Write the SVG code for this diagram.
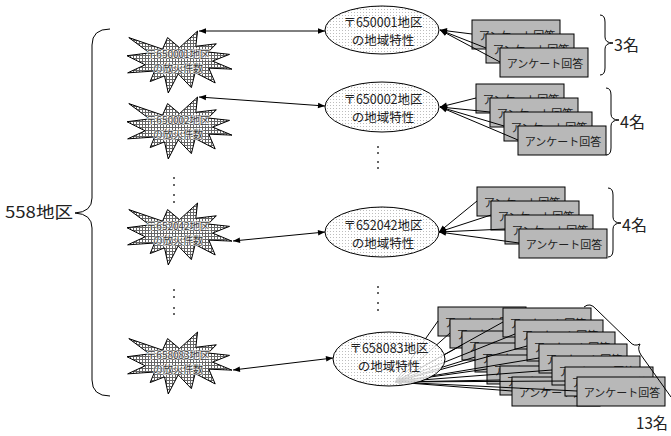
<svg xmlns="http://www.w3.org/2000/svg" xmlns:xlink="http://www.w3.org/1999/xlink" width="671" height="436" viewBox="0 0 671 436">
<style>
text{font-family:"Noto Sans CJK JP","Liberation Sans",sans-serif;dominant-baseline:central}
.et{font-size:12.5px;text-anchor:middle;fill:#222}
.ct{font-size:11px;text-anchor:middle;fill:#222}
.st{font-size:10px;text-anchor:middle;fill:#3a3a3a;stroke:#fff;stroke-width:1.6;stroke-opacity:0.75;paint-order:stroke;stroke-linejoin:round}
.lb{font-size:16px;fill:#222}
.card{fill:#b8b8b8;stroke:#000;stroke-width:1}
.ell{fill:url(#pe);stroke:#000;stroke-width:1}
.star{fill:url(#ps);stroke:#000;stroke-width:1}
.ln{stroke:#000;stroke-width:1;fill:none}
.arr{stroke:#000;stroke-width:1;fill:none;marker-start:url(#ah);marker-end:url(#ah)}
.one{stroke:#000;stroke-width:1;fill:none;marker-end:url(#ah)}
.br{stroke:#000;stroke-width:1;fill:none}
.dot{fill:#333}
</style>
<defs>
<marker id="ah" viewBox="0 0 10 10" refX="10" refY="5" markerWidth="8" markerHeight="7" markerUnits="userSpaceOnUse" orient="auto-start-reverse"><path d="M0,1 L10,5 L0,9 Z" fill="#000"/></marker>
<pattern id="pe" width="3" height="3" patternUnits="userSpaceOnUse"><rect width="3" height="3" fill="#fff" fill-opacity="0.82"/><rect width="1" height="1" fill="#bdbdbd"/></pattern>
<pattern id="ps" width="3" height="3" patternUnits="userSpaceOnUse"><rect width="3" height="3" fill="#666"/><rect x="1" y="1" width="2" height="2" fill="#fff"/></pattern>
<path id="star" class="star" d="M52.5,16.65 L70.59,0 68.81,15.28 89.35,12.79 81.19,21 102.55,23.36 85.59,30.07 105,38.15 81.85,37.15 88.2,51.94 68.15,41.5 64.39,56.65 51.2,42.87 41.25,62 37.5,44.86 23.15,50.57 27.55,40 0.66,41.87 18.09,33.8 0,24.73 22.49,21.86 1.8,6.59 35.54,18.14 40.6,6.59 Z"/>
<g id="cardT"><rect class="card" width="88" height="29"/><text class="ct" x="45" y="15">アンケート回答</text></g>
</defs>

<g id="cards1">
<use href="#cardT" x="472" y="20"/>
<use href="#cardT" x="486" y="34"/>
<use href="#cardT" x="500" y="48"/>
</g>
<g id="cards2">
<use href="#cardT" x="476" y="84"/>
<use href="#cardT" x="490" y="98"/>
<use href="#cardT" x="504" y="112"/>
<use href="#cardT" x="518" y="126"/>
</g>
<g id="cards3">
<use href="#cardT" x="477" y="187"/>
<use href="#cardT" x="491" y="201"/>
<use href="#cardT" x="505" y="215"/>
<use href="#cardT" x="519" y="229"/>
</g>
<g id="cards4">
<use href="#cardT" x="438" y="307"/>
<use href="#cardT" x="450" y="319"/>
<use href="#cardT" x="462" y="331"/>
<use href="#cardT" x="475" y="343"/>
<use href="#cardT" x="487" y="355"/>
<use href="#cardT" x="500" y="366"/>
<use href="#cardT" x="512" y="377"/>
<use href="#cardT" x="503" y="308"/>
<use href="#cardT" x="515" y="320"/>
<use href="#cardT" x="527" y="332"/>
<use href="#cardT" x="539" y="344"/>
<use href="#cardT" x="552" y="356"/>
<use href="#cardT" x="565" y="367"/>
<use href="#cardT" x="577" y="377"/>
</g>

<g id="connectors">
<line class="arr" x1="199" y1="31" x2="325" y2="31"/>
<line class="arr" x1="199" y1="97" x2="325" y2="106"/>
<line class="arr" x1="233" y1="241" x2="325" y2="232"/>
<line class="arr" x1="233" y1="370" x2="333" y2="358"/>
<line class="one" x1="472" y1="34" x2="440" y2="30"/>
<line class="one" x1="486" y1="48" x2="440" y2="30"/>
<line class="one" x1="500" y1="62" x2="440" y2="30"/>
<line class="one" x1="476" y1="98" x2="440" y2="107"/>
<line class="one" x1="490" y1="112" x2="440" y2="107"/>
<line class="one" x1="504" y1="126" x2="440" y2="107"/>
<line class="one" x1="518" y1="140" x2="440" y2="107"/>
<line class="one" x1="477" y1="201" x2="439" y2="232"/>
<line class="one" x1="491" y1="215" x2="439" y2="232"/>
<line class="one" x1="505" y1="229" x2="439" y2="232"/>
<line class="one" x1="519" y1="243" x2="439" y2="232"/>
<g>
<line class="ln" x1="438" y1="321" x2="395" y2="382"/>
<line class="ln" x1="450" y1="333" x2="395" y2="382"/>
<line class="ln" x1="462" y1="345" x2="395" y2="382"/>
<line class="ln" x1="475" y1="357" x2="395" y2="382"/>
<line class="ln" x1="487" y1="369" x2="395" y2="382"/>
<line class="ln" x1="500" y1="380" x2="395" y2="382"/>
<line class="ln" x1="512" y1="391" x2="395" y2="382"/>
<line class="ln" x1="503" y1="322" x2="395" y2="382"/>
<line class="ln" x1="515" y1="334" x2="395" y2="382"/>
<line class="ln" x1="527" y1="346" x2="395" y2="382"/>
<line class="ln" x1="539" y1="358" x2="395" y2="382"/>
<line class="ln" x1="552" y1="370" x2="395" y2="382"/>
<line class="ln" x1="565" y1="381" x2="395" y2="382"/>
<line class="one" x1="577" y1="391" x2="395" y2="382"/>
</g>
</g>

<g id="e1"><ellipse class="ell" cx="382" cy="30" rx="57" ry="24"/><text class="et" x="383" y="21.5">〒650001地区</text><text class="et" x="383" y="39.5">の地域特性</text></g>
<g id="e2"><ellipse class="ell" cx="382" cy="107" rx="57" ry="25"/><text class="et" x="383" y="98">〒650002地区</text><text class="et" x="383" y="116">の地域特性</text></g>
<g id="e3"><ellipse class="ell" cx="382" cy="232" rx="57" ry="25"/><text class="et" x="383" y="224">〒652042地区</text><text class="et" x="383" y="242">の地域特性</text></g>
<g id="e4"><ellipse class="ell" cx="389" cy="359" rx="56" ry="27"/><text class="et" x="389" y="347">〒658083地区</text><text class="et" x="389" y="365">の地域特性</text></g>

<g id="s1"><use href="#star" x="127" y="31"/><text class="st" x="178" y="53">〒650001地区</text><text class="st" x="178" y="67">の放火件数</text></g>
<g id="s2"><use href="#star" x="127" y="97"/><text class="st" x="178" y="119">〒650002地区</text><text class="st" x="178" y="133">の放火件数</text></g>
<g id="s3"><use href="#star" x="127" y="203"/><text class="st" x="178" y="225">〒652042地区</text><text class="st" x="178" y="239">の放火件数</text></g>
<g id="s4"><use href="#star" x="127" y="332"/><text class="st" x="178" y="354">〒658083地区</text><text class="st" x="178" y="368">の放火件数</text></g>

<g id="dots">
<circle class="dot" cx="174" cy="178" r="1"/><circle class="dot" cx="174" cy="185" r="1"/><circle class="dot" cx="174" cy="195" r="1"/><circle class="dot" cx="174" cy="202" r="1"/>
<circle class="dot" cx="174" cy="290" r="1"/><circle class="dot" cx="174" cy="297" r="1"/><circle class="dot" cx="174" cy="308" r="1"/><circle class="dot" cx="174" cy="314" r="1"/>
<circle class="dot" cx="378" cy="147" r="1"/><circle class="dot" cx="378" cy="153" r="1"/><circle class="dot" cx="378" cy="162" r="1"/><circle class="dot" cx="378" cy="168" r="1"/>
<circle class="dot" cx="378" cy="287" r="1"/><circle class="dot" cx="378" cy="293" r="1"/><circle class="dot" cx="378" cy="303" r="1"/><circle class="dot" cx="378" cy="310" r="1"/>
</g>

<g id="braces">
<path class="br" d="M110,29 Q92,29 92,45 L92,198 Q92,212 75,213 Q92,214 92,228 L92,380 Q92,396 110,396"/>
<path class="br" d="M600,15 Q605,15 605,22 L605,37 Q605,43 613,43 Q605,43 605,49 L605,68 Q605,75 600,75"/>
<path class="br" d="M606,88 Q611,88 611,95 L611,114 Q611,120 619,120 Q611,120 611,126 L611,148 Q611,155 606,155"/>
<path class="br" d="M608,188 Q613,188 613,195 L613,217 Q613,223 621,223 Q613,223 613,229 L613,250 Q613,257 608,257"/>
<path class="br" d="M584,307 Q590,302 596,309 L630,342 Q634,347 640,344 Q637,349 641,355 L671,397"/>
</g>

<g id="labels">
<text class="lb" x="5" y="211" textLength="68" lengthAdjust="spacingAndGlyphs">558地区</text>
<text class="lb" x="614" y="44">3名</text>
<text class="lb" x="620" y="121">4名</text>
<text class="lb" x="622" y="224">4名</text>
<text class="lb" x="636" y="422" textLength="32" lengthAdjust="spacingAndGlyphs">13名</text>
</g>
</svg>
